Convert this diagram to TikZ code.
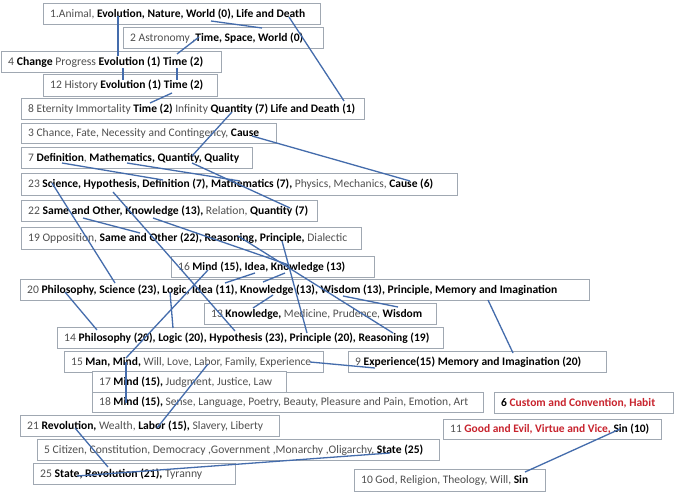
\documentclass[tikz,border=0pt]{standalone}
\usepackage{fontspec}
\setmainfont{Carlito}
\definecolor{reg}{RGB}{80,80,80}
\definecolor{lnk}{RGB}{68,108,172}
\definecolor{brd}{RGB}{160,168,178}
\definecolor{rd}{RGB}{200,35,45}
\newcommand\R[1]{\textcolor{reg}{\relax#1}}
\newcommand\B[1]{\textbf{#1}}
\newcommand\bx[7]{\node[box, minimum width=#4pt, minimum height=#5pt] (b#1) at (#2,#3) {};
  \node[txt] (t#1) at ([xshift=7pt]b#1.west) {\resizebox{#6pt}{!}{#7}};}
\newcommand\lk[5]{\coordinate (#1a) at (#2,#3); \coordinate (#1b) at (#4,#5); \draw[link] (#1a) -- (#1b);}
\begin{document}
\begin{tikzpicture}[x=1pt,y=-1pt,
  box/.style={draw=brd, line width=0.9pt, fill=white, anchor=north west, inner sep=0pt},
  txt/.style={anchor=west, inner sep=0pt, font=\fontsize{11}{13}\selectfont},
  link/.style={draw=lnk, line width=1.3pt}]
\useasboundingbox[fill=white] (0,0) rectangle (676,494);
\bx{1}{43}{3}{277}{21}{255}{\R{1.Animal, }\B{Evolution, Nature, World (0), Life and Death}}
\bx{2}{123}{27}{200}{21}{173}{\R{2 Astronomy ,}\B{Time, Space, World (0)}}
\bx{4}{1}{51}{220}{21}{195}{\R{4 }\B{Change}\R{ Progress }\B{Evolution (1) Time (2)}}
\bx{12}{43}{74}{174}{22}{153}{\R{12 History }\B{Evolution (1) Time (2)}}
\bx{8}{21}{98}{343}{21}{327}{\R{8 Eternity Immortality }\B{Time (2)}\R{ Infinity }\B{Quantity (7) Life and Death (1)}}
\bx{3}{21}{123}{255}{20}{231}{\R{3 Chance, Fate, Necessity and Contingency, }\B{Cause}}
\bx{7}{21}{147}{231}{21}{211}{\R{7 }\B{Definition}\R{, }\B{Mathematics, Quantity, Quality}}
\bx{23}{21}{173}{436}{22}{405}{\R{23 }\B{Science, Hypothesis, Definition (7), Mathematics (7),}\R{ Physics, Mechanics, }\B{Cause (6)}}
\bx{22}{21}{200}{296}{21}{280}{\R{22 }\B{Same and Other, Knowledge (13),}\R{ Relation, }\B{Quantity (7)}}
\bx{19}{21}{227}{340}{22}{319}{\R{19 Opposition, }\B{Same and Other (22), Reasoning, Principle,}\R{ Dialectic}}
\bx{16}{171}{256}{203}{21}{167}{\R{16 }\B{Mind (15), Idea, Knowledge (13)}}
\bx{20}{20}{279}{569}{21}{530}{\R{20 }\B{Philosophy, Science (23), Logic, Idea (11), Knowledge (13), Wisdom (13), Principle, Memory and Imagination}}
\bx{13}{204}{303}{232}{21}{211}{\R{13 }\B{Knowledge,}\R{ Medicine, Prudence, }\B{Wisdom}}
\bx{14}{57}{327}{386}{21}{365}{\R{14 }\B{Philosophy (20), Logic (20), Hypothesis (23), Principle (20), Reasoning (19)}}
\bx{15}{64}{351}{259}{21}{240}{\R{15 }\B{Man, Mind,}\R{ Will, Love, Labor, Family, Experience}}
\bx{9}{348}{351}{258}{21}{226}{\R{9 }\B{Experience(15) Memory and Imagination (20)}}
\bx{17}{92}{371}{194}{21}{173}{\R{17 }\B{Mind (15),}\R{ Judgment, Justice, Law}}
\bx{18}{92}{392}{391}{20}{369}{\R{18 }\B{Mind (15),}\R{ Sense, Language, Poetry, Beauty, Pleasure and Pain, Emotion, Art}}
\bx{6}{494}{392}{179}{21}{154}{\B{6 }\textcolor{rd}{\B{Custom and Convention, Habit}}}
\bx{21}{20}{415}{259}{21}{236}{\R{21 }\B{Revolution,}\R{ Wealth, }\B{Labor (15),}\R{ Slavery, Liberty}}
\bx{11}{443}{419}{218}{20}{199}{\R{11 }\textcolor{rd}{\B{Good and Evil, Virtue and Vice,}} \B{Sin (10)}}
\bx{5}{37}{439}{402}{21}{379}{\R{5 Citizen, Constitution, Democracy ,Government ,Monarchy ,Oligarchy, }\B{State (25)}}
\bx{25}{33}{463}{202}{21}{162}{\R{25 }\B{State, Revolution (21),}\R{ Tyranny}}
\bx{10}{354}{469}{191}{22}{167}{\R{10 God, Religion, Theology, Will, }\B{Sin}}
\lk{k1}{118}{16}{118}{56}
\lk{k2}{211}{21}{262}{28}
\lk{k3}{199}{37}{177}{54}
\lk{k4}{123}{68}{123}{80}
\lk{k5}{177}{68}{177}{80}
\lk{k6}{172}{93}{150}{103}
\lk{k7}{289}{17}{344}{101}
\lk{k8}{232}{112}{192}{156}
\lk{k9}{252}{136}{410}{181}
\lk{k10}{62}{163}{163}{180}
\lk{k11}{127}{163}{240}{181}
\lk{k12}{192}{163}{290}{208}
\lk{k13}{52}{183}{115}{283}
\lk{k14}{113}{192}{235}{331}
\lk{k15}{83}{218}{140}{233}
\lk{k16}{153}{218}{289}{265}
\lk{k17}{238}{236}{393}{333}
\lk{k18}{282}{241}{307}{333}
\lk{k19}{255}{273}{225}{283}
\lk{k20}{285}{273}{263}{282}
\lk{k21}{273}{295}{253}{308}
\lk{k22}{343}{296}{398}{307}
\lk{k23}{208}{270}{126}{358}
\lk{k24}{65}{292}{97}{330}
\lk{k25}{170}{292}{173}{328}
\lk{k26}{126}{362}{126}{403}
\lk{k27}{208}{364}{157}{428}
\lk{k28}{310}{362}{375}{368}
\lk{k29}{488}{300}{513}{353}
\lk{k30}{75}{428}{108}{467}
\lk{k31}{77}{476}{390}{453}
\lk{k32}{620}{429}{525}{472}
\end{tikzpicture}
\end{document}
